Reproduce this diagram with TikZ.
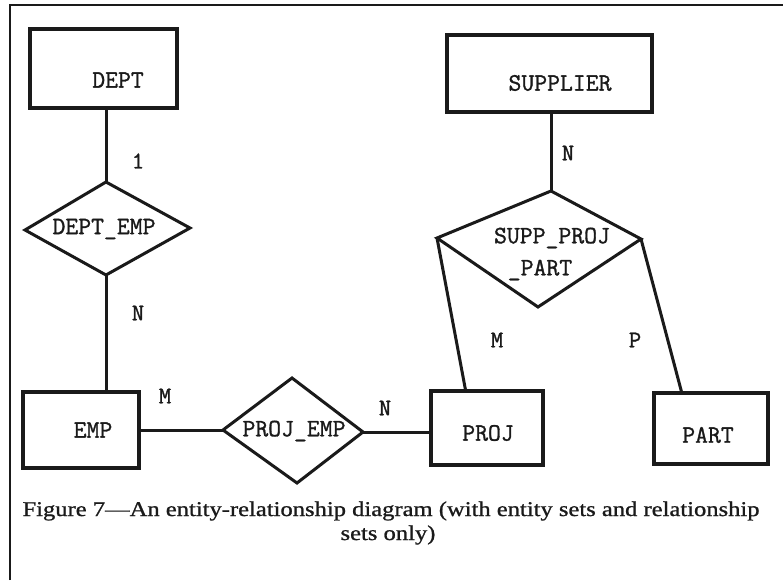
\documentclass[tikz,border=0pt]{standalone}
\usepackage{fontspec}
\setmainfont{Liberation Serif}
\newfontfamily\typew{Latin Modern Mono}[FakeBold=1.2]
\newfontfamily\capfont{Liberation Serif}[FakeBold=0.9]
\usepackage{graphicx}
\definecolor{ink}{HTML}{1A1A1A}
\begin{document}
\begin{tikzpicture}[x=1pt,y=-1pt,
  entity/.style={draw=ink, line width=3.2pt, rectangle, inner sep=0pt},
  rel/.style={draw=ink, line width=3pt, line join=miter},
  conn/.style={draw=ink, line width=3pt},
  lbl/.style={font=\fontsize{25}{25}\selectfont\typew, text=ink, inner sep=0pt},
  card/.style={font=\fontsize{24}{24}\selectfont\typew, text=ink, inner sep=0pt},
  captxt/.style={font=\fontsize{21}{25}\selectfont\capfont, text=ink, inner sep=0pt},
]
\useasboundingbox (0,0) rectangle (783,580);
\fill[white] (0,0) rectangle (783,580);
\draw[ink, line width=2.4pt] (10,580) -- (10,5) -- (783,5);

% entity sets
\node[entity, minimum width=147pt, minimum height=79pt] (dept) at (103.5,68.5) {};
\node[lbl] (deptT) at (118,80) {DEPT};
\node[entity, minimum width=205pt, minimum height=77pt] (sup) at (549.5,73.5) {};
\node[lbl] (supT) at (560,83) {SUPPLIER};
\node[entity, minimum width=116pt, minimum height=76pt] (emp) at (81,430) {};
\node[lbl] (empT) at (93,430) {EMP};
\node[entity, minimum width=112pt, minimum height=74pt] (proj) at (487,428) {};
\node[lbl] (projT) at (488,433) {PROJ};
\node[entity, minimum width=114pt, minimum height=71pt] (part) at (711,428.5) {};
\node[lbl] (partT) at (708,435) {PART};

% relationship sets
\coordinate (deT) at (106,182);
\coordinate (deR) at (190,228);
\coordinate (deB) at (106,275);
\coordinate (deL) at (25,230);
\draw[rel] (deT) -- (deR) -- (deB) -- (deL) -- cycle;
\node[lbl] (deT2) at (104,229) {DEPT\_EMP};

\coordinate (peT) at (292,378);
\coordinate (peR) at (363,432);
\coordinate (peB) at (297,483);
\coordinate (peL) at (223,430);
\draw[rel] (peT) -- (peR) -- (peB) -- (peL) -- cycle;
\node[lbl] (peText) at (294,431) {PROJ\_EMP};

\coordinate (spT) at (551,191);
\coordinate (spR) at (641,239);
\coordinate (spB) at (538,307);
\coordinate (spL) at (437,238);
\draw[rel] (spT) -- (spR) -- (spB) -- (spL) -- cycle;
\node[lbl] (spText1) at (552,238) {SUPP\_PROJ};
\node[lbl] (spText2) at (540,270) {\_PART};

% connectors
\draw[conn] (deT |- dept.south) -- (deT);
\draw[conn] (deB) -- (deB |- emp.north);
\draw[conn] (emp.east |- peL) -- (peL);
\draw[conn] (peR) -- (peR -| proj.west);
\draw[conn] (spT |- sup.south) -- (spT);
\draw[conn] (spL) -- ([xshift=36pt]proj.north west);
\draw[conn] (spR) -- ([xshift=29pt]part.north west);

% cardinalities
\node[card] (c1) at (138,161) {1};
\node[card] (c2) at (138,313) {N};
\node[card] (c3) at (165,396) {M};
\node[card] (c4) at (385,408) {N};
\node[card] (c5) at (568,153) {N};
\node[card] (c6) at (497,340) {M};
\node[card] (c7) at (635,340) {P};

% caption
\node[captxt] (cap1) at (391,511) {\scalebox{1.17}[1]{Figure 7—An entity-relationship diagram (with entity sets and relationship}};
\node[captxt] (cap2) at (388,535) {\scalebox{1.17}[1]{sets only)}};
\end{tikzpicture}
\end{document}
